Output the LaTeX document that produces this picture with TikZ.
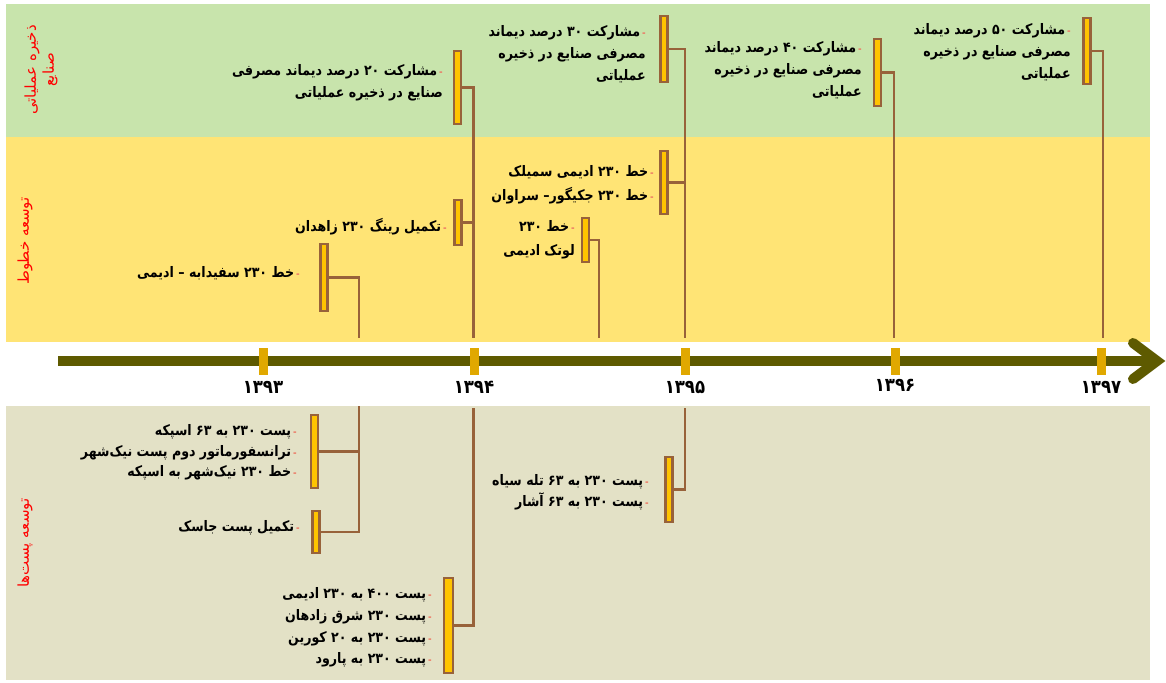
\documentclass[tikz,border=0pt]{standalone}
\usepackage{fontspec}
\newfontfamily\arabicfont[Script=Arabic, FakeStretch=0.87]{DejaVu Sans}
\newfontfamily\sidefont[Script=Arabic]{DejaVu Sans}
\TeXXeTstate=1
\definecolor{bandgreen}{RGB}{200,228,172}
\definecolor{bandyellow}{RGB}{255,228,117}
\definecolor{bandbeige}{RGB}{227,225,198}
\definecolor{brn}{RGB}{152,98,58}
\definecolor{barfill}{RGB}{255,196,0}
\definecolor{tickc}{RGB}{224,168,0}
\definecolor{olivec}{RGB}{94,90,0}
\definecolor{dashc}{RGB}{236,120,100}
\newcommand{\fa}[1]{\beginR #1\endR}
\newcommand{\bul}{\hspace{2pt}{\color{dashc}\fontsize{10}{10}\selectfont -}}
\newcommand{\fb}[1]{\beginR #1\endR\bul}
\tikzset{
 bar/.style={rectangle, draw=brn, fill=barfill, line width=2.2pt, minimum width=7pt, inner sep=0pt},
 conn/.style={draw=brn, line width=2.6pt},
 txt/.style={font=\arabicfont\bfseries\fontsize{14.5}{22}\selectfont, align=right, inner sep=0pt, anchor=east, text=black},
 side/.style={font=\sidefont\fontsize{15}{18}\selectfont, text=red, rotate=90, align=center, inner sep=0pt},
 yr/.style={font=\arabicfont\bfseries\fontsize{19}{19}\selectfont, inner sep=0pt},
 tickbox/.style={rectangle, fill=tickc, minimum width=9pt, minimum height=27pt, inner sep=0pt},
 timeline/.style={draw=olivec, line width=10pt}
}
\begin{document}
\begin{tikzpicture}[x=1pt,y=-1pt]
\useasboundingbox (0,0) rectangle (1166,682);
\fill[white] (0,0) rectangle (1166,682);
% bands
\fill[bandgreen] (6,4) rectangle (1150,137);
\fill[bandyellow] (6,137) rectangle (1150,342);
\fill[bandbeige] (6,406) rectangle (1150,680);
% side labels
\node[side] (sgreen) at (41,70) {\fa{ذخیره عملیاتی}\\\fa{صنایع}};
\node[side] (syellow) at (25,241) {\fa{توسعه خطوط}};
\node[side] (sbeige) at (25,543) {\fa{توسعه پست‌ها}};
% bars
\node[bar, minimum height=73pt] (a1) at (457.5,87.5) {};
\node[bar, minimum height=66pt] (a2) at (664,49) {};
\node[bar, minimum height=67pt] (a3) at (877.5,72.5) {};
\node[bar, minimum height=66pt] (a4) at (1087,51) {};
\node[bar, minimum height=45pt] (b1) at (458,222.5) {};
\node[bar, minimum height=67pt] (b2) at (324,277.5) {};
\node[bar, minimum height=63pt] (b3) at (664,182.5) {};
\node[bar, minimum height=44pt] (b4) at (585.5,240) {};
\node[bar, minimum height=73pt] (c1) at (314.5,451.5) {};
\node[bar, minimum height=42pt] (c2) at (316,532) {};
\node[bar, minimum height=95pt, minimum width=9pt] (c3) at (448.5,625.5) {};
\node[bar, minimum height=65pt] (c4) at (669,489.5) {};
% connector end points
\coordinate (e93t) at (359,338);
\coordinate (e94t) at (473.5,338);
\coordinate (e94mt) at (599,338);
\coordinate (e95t) at (685,338);
\coordinate (e96t) at (894,338);
\coordinate (e97t) at (1103,338);
\coordinate (e93b) at (359,406);
\coordinate (e94b) at (473.5,408);
\coordinate (e95b) at (685,408);
% connectors
\draw[conn] (a1.east) -| (e94t);
\draw[conn] (b1.east) -- (b1.east -| e94t);
\draw[conn] (a2.east) -| (e95t);
\draw[conn] (b3.east) -- (b3.east -| e95t);
\draw[conn] (a3.east) -| (e96t);
\draw[conn] (a4.east) -| (e97t);
\draw[conn] (b2.east) -| (e93t);
\draw[conn] (b4.east) -| (e94mt);
\draw[conn] (c2.east) -| (e93b);
\draw[conn] (c1.east) -- (c1.east -| e93b);
\draw[conn] (c3.east) -| (e94b);
\draw[conn] (c4.east) -| (e95b);
\node[bar, minimum height=73pt] at (a1) {};
\node[bar, minimum height=66pt] at (a2) {};
\node[bar, minimum height=67pt] at (a3) {};
\node[bar, minimum height=66pt] at (a4) {};
\node[bar, minimum height=45pt] at (b1) {};
\node[bar, minimum height=67pt] at (b2) {};
\node[bar, minimum height=63pt] at (b3) {};
\node[bar, minimum height=44pt] at (b4) {};
\node[bar, minimum height=73pt] at (c1) {};
\node[bar, minimum height=42pt] at (c2) {};
\node[bar, minimum height=95pt, minimum width=9pt] at (c3) {};
\node[bar, minimum height=65pt] at (c4) {};
% texts
\node[txt] (ta1) at (443,82.5) {\fb{مشارکت ۲۰ درصد دیماند مصرفی}\\\fa{صنایع در ذخیره عملیاتی}};
\node[txt] (ta2) at (646,54) {\fb{مشارکت ۳۰ درصد دیماند}\\\fa{مصرفی صنایع در ذخیره}\\\fa{عملیاتی}};
\node[txt] (ta3) at (862,70) {\fb{مشارکت ۴۰ درصد دیماند}\\\fa{مصرفی صنایع در ذخیره}\\\fa{عملیاتی}};
\node[txt] (ta4) at (1071,52) {\fb{مشارکت ۵۰ درصد دیماند}\\\fa{مصرفی صنایع در ذخیره}\\\fa{عملیاتی}};
\node[txt] (tb1) at (447,227) {\fb{تکمیل رینگ ۲۳۰ زاهدان}};
\node[txt] (tb2) at (300,273) {\fb{خط ۲۳۰ سفیدابه – ادیمی}};
\node[txt, font=\arabicfont\bfseries\fontsize{14.5}{24}\selectfont] (tb3) at (654,185) {\fb{خط ۲۳۰ ادیمی سمیلک}\\\fb{خط ۲۳۰ جکیگور– سراوان}};
\node[txt, font=\arabicfont\bfseries\fontsize{14.5}{24}\selectfont] (tb4) at (575,240) {\fb{خط ۲۳۰}\\\fa{لوتک ادیمی}};
\node[txt, font=\arabicfont\bfseries\fontsize{14.5}{20.5}\selectfont] (tc1) at (297,452.5) {\fb{پست ۲۳۰ به ۶۳ اسپکه}\\\fb{ترانسفورماتور دوم پست نیک‌شهر}\\\fb{خط ۲۳۰ نیک‌شهر به اسپکه}};
\node[txt] (tc2) at (300,528) {\fb{تکمیل پست جاسک}};
\node[txt, font=\arabicfont\bfseries\fontsize{14.5}{21.7}\selectfont] (tc3) at (432,627.5) {\fb{پست ۴۰۰ به ۲۳۰ ادیمی}\\\fb{پست ۲۳۰ شرق زادهان}\\\fb{پست ۲۳۰ به ۲۰ کورین}\\\fb{پست ۲۳۰ به پارود}};
\node[txt, font=\arabicfont\bfseries\fontsize{14.5}{21}\selectfont] (tc4) at (649,492.5) {\fb{پست ۲۳۰ به ۶۳ تله سیاه}\\\fb{پست ۲۳۰ به ۶۳ آشار}};
% timeline
\coordinate (tlstart) at (58,361);
\coordinate (tlend) at (1157,361);
\draw[timeline] (tlstart) -- (tlend);
\draw[timeline, line cap=round, line join=miter] (1133,343) -- (tlend) -- (1133,379);
\node[tickbox] (k93) at (263,361) {};
\node[tickbox] (k94) at (474,361) {};
\node[tickbox] (k95) at (685,361) {};
\node[tickbox] (k96) at (895,361) {};
\node[tickbox] (k97) at (1101,361) {};
\node[yr] (y93) at (263,387) {۱۳۹۳};
\node[yr] (y94) at (474,387) {۱۳۹۴};
\node[yr] (y95) at (685,387) {۱۳۹۵};
\node[yr] (y96) at (895,385) {۱۳۹۶};
\node[yr] (y97) at (1101,387) {۱۳۹۷};
\end{tikzpicture}
\end{document}
